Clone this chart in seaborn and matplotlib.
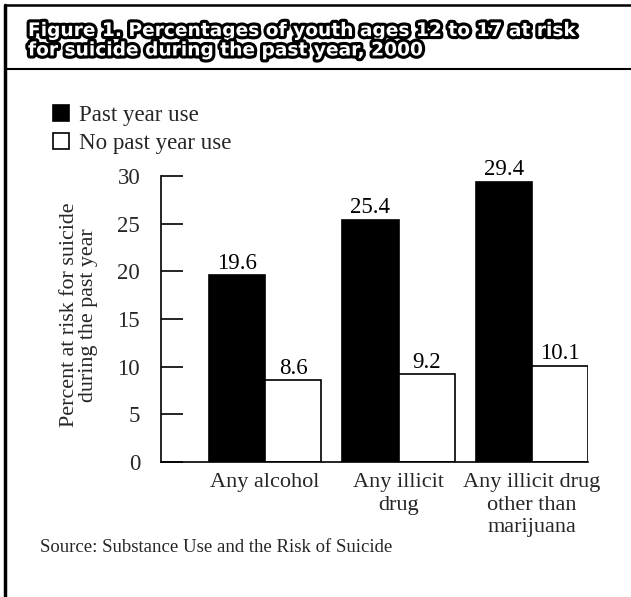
import matplotlib
matplotlib.use("Agg")
import matplotlib.pyplot as plt
import matplotlib.patheffects as pe
from matplotlib.lines import Line2D
import seaborn as sns
import pandas as pd

categories = ["Any alcohol", "Any illicit\ndrug", "Any illicit drug\nother than\nmarijuana"]
groups = ["Past year use", "No past year use"]
past_year = [19.6, 25.4, 29.4]
no_past_year = [8.6, 9.2, 10.1]
yticks = [0, 5, 10, 15, 20, 25, 30]

df = pd.DataFrame({
    "category": categories * 2,
    "group": [groups[0]] * 3 + [groups[1]] * 3,
    "value": past_year + no_past_year,
})

sns.set_theme(style="white")
plt.rcParams["font.family"] = ["Liberation Serif", "DejaVu Serif"]

fig = plt.figure(figsize=(6.31, 5.97), dpi=100)
ax = fig.add_axes([161/631, 1-462/597, (588-161)/631, (462-176)/597])

sns.barplot(data=df, x="category", y="value", hue="group", order=categories,
            hue_order=groups, palette=["black", "white"], edgecolor="black",
            linewidth=1.2, width=0.84, gap=0, ax=ax, legend=True)

for c in ax.containers:
    ax.bar_label(c, fmt="%.1f", padding=1, fontsize=16.5, color="black")

ax.set_ylim(0, 30)
ax.set_xlim(-0.78, 2.42)
ax.set_yticks(yticks)
ax.set_yticklabels([str(t) for t in yticks])
ax.tick_params(axis="y", direction="in", length=16, width=1.2, pad=15, labelsize=16.5, color="black", left=True)
ax.tick_params(axis="x", length=0, pad=8, labelsize=16)
for lbl in ax.get_xticklabels():
    lbl.set_linespacing(1.25)
ax.set_xlabel("")
ax.set_ylabel("Percent at risk for suicide\nduring the past year", fontsize=15.8, linespacing=1.0)
ax.yaxis.set_label_coords(-0.148, 0.515)
for s in ["top", "right"]:
    ax.spines[s].set_visible(False)
for s in ["left", "bottom"]:
    ax.spines[s].set_color("black")
    ax.spines[s].set_linewidth(1.2)
ax.patch.set_alpha(0)

handles, labels = ax.get_legend_handles_labels()
ax.legend(handles, labels, loc="upper left", bbox_to_anchor=(53/631, 1-105/597),
          bbox_transform=fig.transFigure, frameon=False, fontsize=16.5,
          handlelength=0.7, handleheight=0.7, handletextpad=0.45, labelspacing=0.3,
          borderaxespad=0, borderpad=0)

title = "Figure 1. Percentages of youth ages 12 to 17 at risk\nfor suicide during the past year, 2000"
fig.text(28/631, 1-21/597, title, ha="left", va="top", fontsize=13.4, fontweight="bold",
         family=["DejaVu Sans"], color="white", linespacing=1.03,
         path_effects=[pe.withStroke(linewidth=4.5, foreground="black")])

fig.text(40/631, 1-548/597, "Source: Substance Use and the Risk of Suicide", ha="left",
         va="center", fontsize=13.5)

fig.add_artist(Line2D([5/631, 5/631], [0, 1-5/597], transform=fig.transFigure, color="black", lw=2.5))
fig.add_artist(Line2D([5/631, 1], [1-5/597, 1-5/597], transform=fig.transFigure, color="black", lw=1.8))
fig.add_artist(Line2D([5/631, 1], [1-69/597, 1-69/597], transform=fig.transFigure, color="black", lw=1.5))

fig.savefig("out.png", dpi=100)
